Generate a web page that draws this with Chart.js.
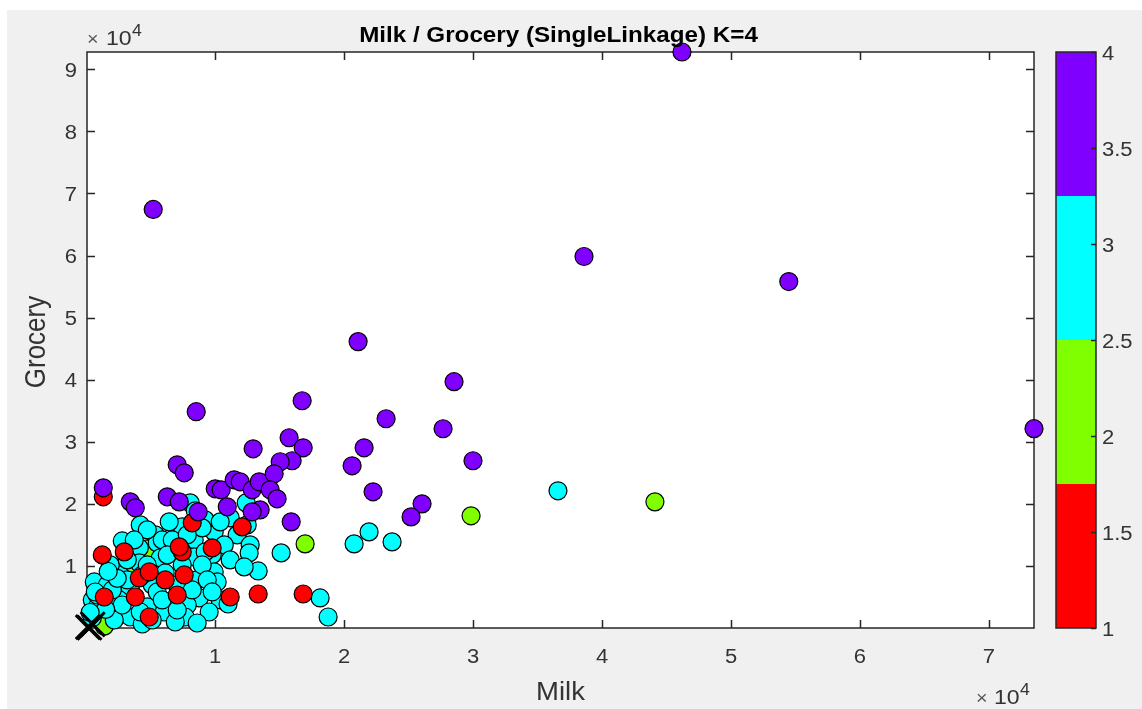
<!DOCTYPE html>
<html>
<head>
<meta charset="utf-8">
<script src="https://cdn.jsdelivr.net/npm/chart.js@4.4.1/dist/chart.umd.min.js"></script>
<style>
  html, body { margin: 0; padding: 0; background: #ffffff; overflow: hidden; }
  canvas { display: block; }
</style>
</head>
<body>
<canvas id="chart" width="1142" height="709"></canvas>
<script>
// ---- text ----
const chartTitle = 'Milk / Grocery (SingleLinkage) K=4';
const xAxisLabel = 'Milk';
const yAxisLabel = 'Grocery';

// ---- axes ----
const milkRange = [55, 73498];
const groceryRange = [3, 92780];
const milkTicks = [10000, 20000, 30000, 40000, 50000, 60000, 70000];
const milkTickLabels = ['1', '2', '3', '4', '5', '6', '7'];
const groceryTicks = [10000, 20000, 30000, 40000, 50000, 60000, 70000, 80000, 90000];
const groceryTickLabels = ['1', '2', '3', '4', '5', '6', '7', '8', '9'];
const exponentLabel = '4';

// ---- colour bar (cluster index 1..4) ----
const clusterIds = [1, 2, 3, 4];
const clusterColors = ['#ff0000', '#80ff00', '#00ffff', '#8000ff'];
const colorbarTicks = [1, 1.5, 2, 2.5, 3, 3.5, 4];
const colorbarTickLabels = ['1', '1.5', '2', '2.5', '3', '3.5', '4'];

// ---- customers: [Milk, Grocery] per cluster ----
const cluster1 = [
  [1318, 21130], [1240, 11775], [2945, 12260], [4110, 8065], [4880, 9030],
  [1395, 5000], [3800, 5000], [4880, 1775], [7440, 12260], [8215, 16940],
  [12090, 16290], [7210, 13065], [9765, 12900], [7595, 8550], [7050, 5320],
  [11160, 5000], [13330, 5480], [16820, 5480], [6120, 7740]
];
const cluster2 = [
  [44100, 20320], [29840, 18070], [16970, 13550], [4730, 12740], [1400, 300],
  [3410, 10000]
];
const cluster3 = [
  [36580, 22100], [23715, 13870], [21930, 15480], [20770, 13550], [18755, 1775],
  [18135, 4840], [15110, 12100], [13330, 9190],
  [8060, 20160], [8450, 18870], [12400, 20160], [4185, 16610], [5350, 15000],
  [5500, 13710], [7440, 16290], [9920, 15480], [11160, 17740], [12480, 16610],
  [9220, 17420], [6430, 17100], [11700, 15000], [2790, 14030], [4110, 12900],
  [5890, 14190], [8370, 14190], [10700, 13390], [12710, 13390], [9765, 11775],
  [8370, 11450], [9220, 12260], [11160, 10970], [12630, 12100], [12245, 9840],
  [5735, 11290], [4110, 10480], [2635, 8550], [6120, 8870], [620, 7420],
  [1630, 6940], [5115, 6940], [8600, 7740], [9920, 9030], [7050, 6940],
  [3410, 6450], [2560, 4520], [5500, 5810], [8760, 4840], [10385, 4520],
  [465, 4520], [4730, 3390], [7830, 3710], [6280, 4190], [850, 3390],
  [6045, 2580], [3410, 1775], [9530, 2580], [7670, 1775], [6900, 970],
  [2170, 1290], [4340, 645], [8600, 810], [465, 1610], [10995, 3870],
  [10150, 7420], [1860, 10160], [3180, 10970], [4730, 15810], [6665, 14190],
  [7440, 10160], [8990, 10160], [3720, 14190], [2015, 6130], [4340, 8550],
  [5890, 4520], [7050, 2900], [2790, 3710], [5115, 1290],
  [8215, 6130], [9380, 7740], [9765, 5810], [10385, 17100], [8990, 16130],
  [7830, 15000], [6280, 11775], [4730, 10160], [3180, 7740], [850, 5320],
  [4185, 2580], [700, 5800], [1500, 3000], [300, 2500],
  [2400, 8000], [1700, 9100]
];
const cluster4 = [
  [46197, 92780], [5190, 67420], [38600, 59840], [54480, 55810], [73498, 32110],
  [21080, 46130], [28520, 39680], [16740, 36610], [8525, 34840], [23250, 33710],
  [27670, 32100], [15730, 30650], [16820, 29030], [21545, 29030], [12940, 28870],
  [29990, 26940], [20615, 26130], [7050, 26290], [7595, 25000], [15965, 26940],
  [15035, 26780], [1318, 22580], [22240, 21940], [26040, 20000], [25190, 17900],
  [15890, 17100], [6280, 21130], [3410, 20320], [3800, 19360], [9998, 22420],
  [10460, 22260], [11470, 23870], [11935, 23550], [12865, 22260], [13410, 23550],
  [14570, 24840], [14260, 22260], [14800, 20810], [13485, 19030], [12865, 18710],
  [10930, 19520], [7210, 20320], [8680, 18710]
];
// cluster centres
const centres = [[120, 150], [500, 600], [250, 40]];

// ---- drawing helpers ----
const FONT = '"Liberation Sans", Arial, Helvetica, sans-serif';
const TEXT_COLOR = '#262626';
const TICK_COLOR = '#333333';
const STRETCH = 1.1;

function drawText(ctx, s, x, y, font, align, baseline, rot, color) {
  ctx.save();
  ctx.translate(x, y);
  ctx.scale(STRETCH, 1);
  if (rot) ctx.rotate(rot);
  ctx.font = font;
  ctx.textAlign = align;
  ctx.textBaseline = baseline;
  ctx.fillStyle = color || TEXT_COLOR;
  ctx.fillText(s, 0, 0);
  ctx.restore();
}

function toPoints(list) {
  return list.map(([x, y]) => ({ x, y }));
}

function clusterDataset(list, id) {
  return {
    label: 'Cluster ' + id,
    data: toPoints(list),
    pointRadius: 9,
    pointBorderWidth: 1.2,
    pointBorderColor: '#000000',
    pointBackgroundColor: clusterColors[id - 1],
    showLine: false,
    clip: false
  };
}

const W = 1142, H = 709;

const figurePlugin = {
  id: 'figure',
  beforeDraw(chart) {
    const { ctx, chartArea: a } = chart;
    ctx.save();
    ctx.fillStyle = '#ffffff';
    ctx.fillRect(0, 0, W, H);
    ctx.fillStyle = '#f0f0f0';
    ctx.fillRect(7, 10, W - 7, H - 10);
    ctx.fillStyle = '#ffffff';
    ctx.fillRect(a.left, a.top, a.right - a.left, a.bottom - a.top);
    ctx.restore();
  },
  beforeDatasetsDraw(chart) {
    const { ctx, chartArea: a, scales } = chart;
    const tl = 8;
    ctx.save();
    ctx.strokeStyle = '#262626';
    ctx.lineWidth = 1.5;
    ctx.beginPath();
    milkTicks.forEach(v => {
      const px = Math.round(scales.x.getPixelForValue(v)) + 0.5;
      ctx.moveTo(px, a.bottom); ctx.lineTo(px, a.bottom - tl);
      ctx.moveTo(px, a.top); ctx.lineTo(px, a.top + tl);
    });
    groceryTicks.forEach(v => {
      const py = Math.round(scales.y.getPixelForValue(v)) + 0.5;
      ctx.moveTo(a.left, py); ctx.lineTo(a.left + tl, py);
      ctx.moveTo(a.right, py); ctx.lineTo(a.right - tl, py);
    });
    ctx.stroke();
    ctx.strokeRect(a.left, a.top, a.right - a.left, a.bottom - a.top);
    ctx.restore();
  },
  afterDraw(chart) {
    const { ctx, chartArea: a, scales } = chart;
    const tickFont = '20px ' + FONT;

    // tick labels
    milkTicks.forEach((v, i) => {
      drawText(ctx, milkTickLabels[i], scales.x.getPixelForValue(v), 663, tickFont, 'center', 'alphabetic', 0, TICK_COLOR);
    });
    groceryTicks.forEach((v, i) => {
      drawText(ctx, groceryTickLabels[i], 77, scales.y.getPixelForValue(v) + 7.5, tickFont, 'right', 'alphabetic', 0, TICK_COLOR);
    });

    // exponent markers
    drawText(ctx, '\u00d7', 87, 45, '18px ' + FONT, 'left', 'alphabetic', 0, '#555555');
    drawText(ctx, '10', 106, 45, '21px ' + FONT, 'left', 'alphabetic', 0, TICK_COLOR);
    drawText(ctx, exponentLabel, 132, 36, '16px ' + FONT, 'left', 'alphabetic', 0, TICK_COLOR);
    drawText(ctx, '\u00d7', 976, 704, '18px ' + FONT, 'left', 'alphabetic', 0, '#555555');
    drawText(ctx, '10', 994, 704, '21px ' + FONT, 'left', 'alphabetic', 0, TICK_COLOR);
    drawText(ctx, exponentLabel, 1020, 695, '16px ' + FONT, 'left', 'alphabetic', 0, TICK_COLOR);

    // title and axis labels
    drawText(ctx, chartTitle, (a.left + a.right) / 2 - 2, 42, 'bold 22px ' + FONT, 'center', 'alphabetic', 0, '#000000');
    drawText(ctx, xAxisLabel, (a.left + a.right) / 2, 700, '25px ' + FONT, 'center', 'alphabetic', 0, TICK_COLOR);
    drawText(ctx, yAxisLabel, 45, (a.top + a.bottom) / 2 + 2, '26px ' + FONT, 'center', 'alphabetic', -Math.PI / 2, TICK_COLOR);

    // colour bar
    const cbL = 1056, cbR = 1096, cbT = a.top, cbB = a.bottom;
    const cMin = colorbarTicks[0], cMax = colorbarTicks[colorbarTicks.length - 1];
    const cy = v => cbB - (v - cMin) / (cMax - cMin) * (cbB - cbT);
    const step = (cMax - cMin) / clusterIds.length;
    ctx.save();
    clusterIds.forEach((id, i) => {
      const y0 = cy(cMin + i * step), y1 = cy(cMin + (i + 1) * step);
      ctx.fillStyle = clusterColors[id - 1];
      ctx.fillRect(cbL, y1, cbR - cbL, y0 - y1);
    });
    ctx.strokeStyle = '#262626';
    ctx.lineWidth = 1.5;
    ctx.strokeRect(cbL, cbT, cbR - cbL, cbB - cbT);
    ctx.beginPath();
    colorbarTicks.forEach(v => {
      const py = Math.round(cy(v)) + 0.5;
      ctx.moveTo(cbR, py); ctx.lineTo(cbR - 5, py);
    });
    ctx.stroke();
    ctx.restore();
    colorbarTicks.forEach((v, i) => {
      drawText(ctx, colorbarTickLabels[i], 1102, cy(v) + 7.5, tickFont, 'left', 'alphabetic', 0, TICK_COLOR);
    });
  }
};

new Chart(document.getElementById('chart'), {
  type: 'scatter',
  data: {
    datasets: [
      {
        label: 'Centres',
        data: toPoints(centres),
        pointStyle: 'crossRot',
        pointRadius: 17,
        pointBorderWidth: 3,
        pointBorderColor: '#000000',
        pointBackgroundColor: '#000000',
        showLine: false,
        clip: false
      },
      clusterDataset(cluster4, 4),
      clusterDataset(cluster1, 1),
      clusterDataset(cluster3, 3),
      clusterDataset(cluster2, 2)
    ]
  },
  options: {
    responsive: false,
    animation: false,
    events: [],
    layout: { padding: { top: 52, right: 108, bottom: 0, left: 0 } },
    plugins: { legend: { display: false }, tooltip: { enabled: false }, title: { display: false } },
    scales: {
      x: {
        type: 'linear',
        min: milkRange[0],
        max: milkRange[1],
        grid: { display: false, drawTicks: false },
        border: { display: false },
        ticks: { display: false },
        afterBuildTicks: s => { s.ticks = milkTicks.map(v => ({ value: v })); },
        afterFit: s => { s.height = 81; }
      },
      y: {
        type: 'linear',
        min: groceryRange[0],
        max: groceryRange[1],
        grid: { display: false, drawTicks: false },
        border: { display: false },
        ticks: { display: false },
        afterBuildTicks: s => { s.ticks = groceryTicks.map(v => ({ value: v })); },
        afterFit: s => { s.width = 87; }
      }
    }
  },
  plugins: [figurePlugin]
});
</script>
</body>
</html>
